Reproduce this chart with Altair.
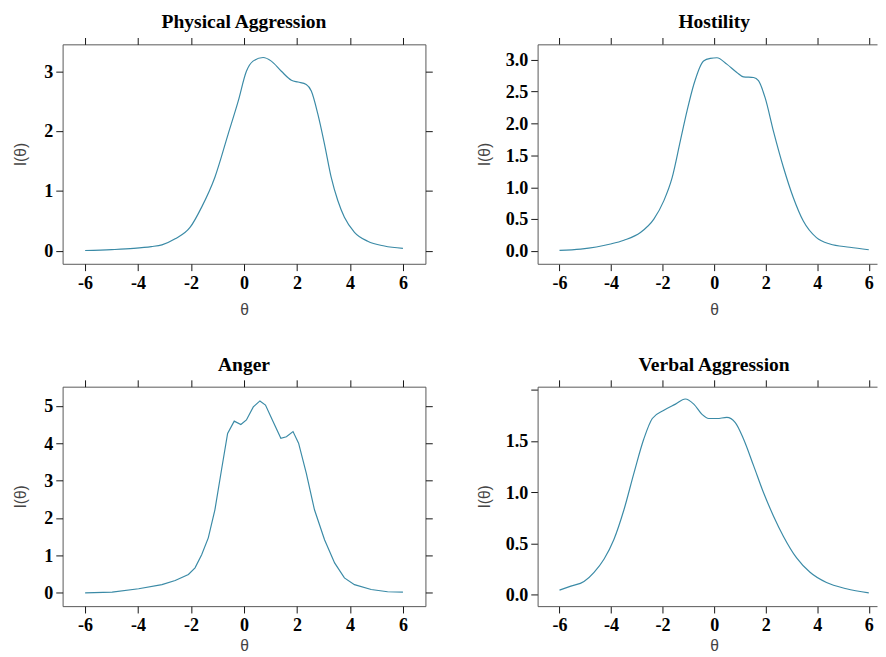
import altair as alt
import pandas as pd

# ---- data ----
titles = ["Physical Aggression", "Hostility", "Anger", "Verbal Aggression"]

theta_pa = [-6, -5, -4.17, -3.5, -3.1, -2.6, -2.04, -1.6, -1.1, -0.6, -0.22, 0.09, 0.34, 0.72,
            1.03, 1.41, 1.79, 2.04, 2.35, 2.54, 2.79, 3.04, 3.29, 3.54, 3.79, 4.17, 4.67, 5.3, 6]
info_pa = [0.005, 0.02, 0.04, 0.07, 0.1, 0.2, 0.39, 0.73, 1.23, 1.95, 2.5, 3.0, 3.17, 3.23,
           3.17, 3.0, 2.85, 2.82, 2.78, 2.67, 2.28, 1.78, 1.23, 0.84, 0.56, 0.31, 0.16, 0.08, 0.04]

theta_ho = [-6, -5.18, -4.02, -3.5, -2.86, -2.34, -1.95, -1.63, -1.31, -1.05, -0.79, -0.41, -0.15,
            0.11, 0.49, 0.88, 1.14, 1.53, 1.72, 1.98, 2.3, 2.69, 3.07, 3.46, 3.97, 4.49, 5.26, 6]
info_ho = [0.01, 0.03, 0.11, 0.17, 0.29, 0.5, 0.79, 1.15, 1.73, 2.2, 2.61, 2.98, 3.02,
           3.03, 2.93, 2.8, 2.73, 2.72, 2.67, 2.4, 1.88, 1.31, 0.84, 0.47, 0.21, 0.11, 0.06, 0.02]

theta_an = [-6, -4.98, -3.98, -3.1, -2.6, -2.1, -1.85, -1.6, -1.35, -1.1, -0.85, -0.62, -0.37, -0.12,
            0.09, 0.35, 0.6, 0.81, 1.1, 1.39, 1.6, 1.85, 2.06, 2.35, 2.66, 3.04, 3.42, 3.79, 4.17,
            4.8, 5.42, 6]
info_an = [0, 0.02, 0.11, 0.22, 0.33, 0.49, 0.67, 1.02, 1.47, 2.22, 3.29, 4.26, 4.59, 4.5,
           4.62, 4.97, 5.13, 5.02, 4.57, 4.13, 4.17, 4.31, 4.0, 3.2, 2.22, 1.42, 0.8, 0.4, 0.22,
           0.09, 0.03, 0.02]

theta_va = [-6, -5.56, -5.05, -4.66, -4.27, -3.89, -3.5, -3.11, -2.73, -2.4, -1.95, -1.5, -1.12,
            -0.79, -0.47, -0.21, 0.11, 0.49, 0.82, 1.14, 1.53, 1.91, 2.3, 2.69, 3.2, 3.72, 4.36,
            5.13, 6]
info_va = [0.046, 0.085, 0.13, 0.22, 0.35, 0.54, 0.83, 1.19, 1.52, 1.72, 1.8, 1.86, 1.91,
           1.86, 1.76, 1.72, 1.72, 1.73, 1.68, 1.52, 1.26, 1.0, 0.77, 0.57, 0.36, 0.22, 0.12,
           0.06, 0.02]

x_ticks = [-6, -4, -2, 0, 2, 4, 6]
y_ticks_pa = [0, 1, 2, 3]
y_ticks_ho = [0, 0.5, 1, 1.5, 2, 2.5, 3]
y_ticks_an = [0, 1, 2, 3, 4, 5]
y_ticks_va = [0, 0.5, 1, 1.5, 2]

SERIF = "Liberation Serif"
SANS = "Liberation Sans"
LINE = "#3a8aa6"
FRAME = "#555555"

# left column: full theta range; right column runs off the page edge like the reference
xdom_left = [-6.85, 6.85]
xdom_right = [-6.85, 6.32]
W_LEFT, W_RIGHT = 372, 348
RIGHT_CENTER = 181  # centre of the (uncut) right-hand panels


def panel(title, th, info, xdom, ydom, yticks, ylabel_expr, width, ext, tpad, xtpad, interp, right_col):
    df = pd.DataFrame({"theta": th, "info": info})
    xs = alt.Scale(domain=xdom, nice=False, zero=False)
    ys = alt.Scale(domain=ydom, nice=False, zero=False)
    base = alt.Chart(df)
    xaxis_kw = dict(orient="bottom", values=x_ticks, labelExpr="toString(datum.value)",
                    title="θ", titlePadding=xtpad, domain=right_col)
    if right_col:
        xaxis_kw["titleX"] = RIGHT_CENTER
    main = base.mark_line(color=LINE, strokeWidth=1.2, interpolate=interp).encode(
        x=alt.X("theta:Q", scale=xs, axis=alt.Axis(**xaxis_kw)),
        y=alt.Y("info:Q", scale=ys,
                axis=alt.Axis(orient="left", values=yticks, labelExpr=ylabel_expr,
                              title="I(θ)", minExtent=ext, maxExtent=ext, titlePadding=tpad,
                              domain=right_col)),
    )
    ghost_y = alt.Axis(orient="right", values=yticks, labels=False, title=None,
                       ticks=not right_col, minExtent=0, domain=False)
    ghost = base.mark_line(opacity=0).encode(
        x=alt.X("theta:Q", scale=xs,
                axis=alt.Axis(orient="top", values=x_ticks, labels=False, title=None,
                              minExtent=0, domain=right_col)),
        y=alt.Y("info:Q", scale=ys, axis=ghost_y),
    )
    tkw = dict(font=SERIF, fontWeight="bold", fontSize=20, color="black",
               baseline="alphabetic", offset=-11, anchor="middle")
    if right_col:
        tkw["dx"] = RIGHT_CENTER - width / 2
    props = dict(width=width, height=225, title=alt.TitleParams(title, **tkw))
    if right_col:
        props["view"] = alt.ViewBackground(stroke="transparent")
    return alt.layer(main, ghost).resolve_axis(x="independent", y="independent").properties(**props)


fmt_int = "format(datum.value, 'd')"
fmt_1 = "format(datum.value, '.1f')"
fmt_va = "datum.value > 1.9 ? '' : format(datum.value, '.1f')"

p1 = panel(titles[0], theta_pa, info_pa, xdom_left, [-0.217, 3.45], y_ticks_pa, fmt_int, W_LEFT, 23, 12, 10, "monotone", False)
p2 = panel(titles[1], theta_ho, info_ho, xdom_right, [-0.2, 3.24], y_ticks_ho, fmt_1, W_RIGHT, 34, 12, 10, "monotone", True)
p3 = panel(titles[2], theta_an, info_an, xdom_left, [-0.355, 5.51], y_ticks_an, fmt_int, W_LEFT, 23, 12, 4, "linear", False)
p4 = panel(titles[3], theta_va, info_va, xdom_right, [-0.11, 2.03], y_ticks_va, fmt_va, W_RIGHT, 34, 12, 4, "monotone", True)

chart = alt.vconcat(
    alt.hconcat(p1, p2, spacing=44),
    alt.hconcat(p3, p4, spacing=44),
    spacing=38,
).properties(
    padding={"left": 4, "top": -4, "right": 0, "bottom": 0},
).configure(
    background="white"
).configure_view(
    stroke=FRAME, strokeWidth=1
).configure_axis(
    grid=False, domainColor=FRAME, domainWidth=1, tickSize=7, tickColor="#111111", tickWidth=1,
    labelFont=SERIF, labelFontWeight="bold", labelFontSize=18.5, labelColor="black",
    labelPadding=3, labelOverlap=False,
    titleFont=SANS, titleFontWeight="normal", titleFontSize=16, titleColor="#444444",
)

chart.save("out.html", embed_options={"renderer": "svg", "actions": False})
